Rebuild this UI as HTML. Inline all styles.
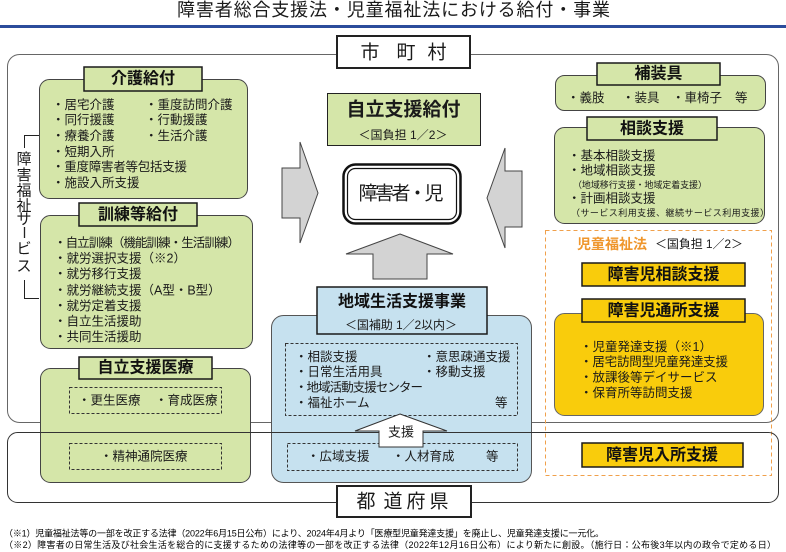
<!DOCTYPE html>
<html><head><meta charset="utf-8"><style>
html,body{margin:0;padding:0;background:#fff;}
svg{display:block;}
text{font-family:"Liberation Sans","Noto Sans CJK JP",sans-serif;fill:#1a1a1a;dominant-baseline:central;}
.h{font-weight:bold;font-size:16px;text-anchor:middle;fill:#111;}
.i{font-size:12.5px;}
.c{text-anchor:middle;}
</style></head><body>
<svg width="786" height="552" viewBox="0 0 786 552" xmlns="http://www.w3.org/2000/svg">
<rect x="0" y="0" width="786" height="552" fill="#fff"/>
<!-- title -->
<text x="177" y="10" font-size="18" textLength="433">障害者総合支援法・児童福祉法における給付・事業</text>
<rect x="0" y="25" width="786" height="3" fill="#2b4c9b"/>

<!-- municipal rect -->
<rect x="7.5" y="54.5" width="771" height="368" rx="12" fill="none" stroke="#666" stroke-width="1"/>
<rect x="337" y="36" width="133" height="32" fill="#fff" stroke="#222" stroke-width="2"/>
<text x="370" y="53" font-size="19" class="c">市</text>
<text x="406" y="53" font-size="19" class="c">町</text>
<text x="437" y="53" font-size="19" class="c">村</text>

<!-- left bracket -->
<path d="M39 135.5 H24.5 V148 M24.5 280 V298.5 H39" fill="none" stroke="#222" stroke-width="1"/>
<text x="24" y="159.5" font-size="15" class="c">障</text>
<text x="24" y="175.5" font-size="15" class="c">害</text>
<text x="24" y="191" font-size="15" class="c">福</text>
<text x="24" y="206" font-size="15" class="c">祉</text>
<text x="24" y="219.5" font-size="15" class="c">サ</text>
<line x1="24.5" y1="227" x2="24.5" y2="238" stroke="#222" stroke-width="1.3"/>
<text x="24" y="249" font-size="15" class="c">ビ</text>
<text x="24" y="266.5" font-size="15" class="c">ス</text>

<!-- 介護給付 -->
<rect x="39.5" y="79.5" width="208" height="119" rx="10" fill="#d5e6a9" stroke="#444"/>
<rect x="84" y="67" width="118" height="24" fill="#d5e6a9" stroke="#1a1a1a" stroke-width="1.5"/>
<text x="143" y="79" class="h">介護給付</text>
<text x="52" y="105" class="i">・居宅介護</text>
<text x="52" y="120" class="i">・同行援護</text>
<text x="52" y="136" class="i">・療養介護</text>
<text x="52" y="152" class="i">・短期入所</text>
<text x="52" y="167" class="i" textLength="135">・重度障害者等包括支援</text>
<text x="52" y="183" class="i">・施設入所支援</text>
<text x="145" y="105" class="i">・重度訪問介護</text>
<text x="145" y="120" class="i">・行動援護</text>
<text x="145" y="136" class="i">・生活介護</text>

<!-- 訓練等給付 -->
<rect x="40.5" y="215.5" width="212" height="133" rx="10" fill="#d5e6a9" stroke="#444"/>
<rect x="79" y="203" width="118" height="23" fill="#d5e6a9" stroke="#1a1a1a" stroke-width="1.5"/>
<text x="138" y="215" class="h">訓練等給付</text>
<text x="54" y="243" class="i" textLength="186">・自立訓練（機能訓練・生活訓練）</text>
<text x="54" y="258.5" class="i">・就労選択支援（※2）</text>
<text x="54" y="274" class="i">・就労移行支援</text>
<text x="54" y="290.5" class="i">・就労継続支援（A型・B型）</text>
<text x="54" y="306" class="i">・就労定着支援</text>
<text x="54" y="321.5" class="i">・自立生活援助</text>
<text x="54" y="337" class="i">・共同生活援助</text>

<!-- center -->
<rect x="327.5" y="93.5" width="153" height="52" fill="#d5e6a9" stroke="#222" stroke-width="1"/>
<text x="403.5" y="110" font-size="19" font-weight="bold" class="c">自立支援給付</text>
<text x="403" y="135" font-size="12" class="c" textLength="89">＜国負担 1／2＞</text>

<polygon points="282,168 300,168 300,142 318,193 300,243 300,218 282,218" fill="#d3d3d3" stroke="#444" stroke-width="1"/>
<polygon points="522,171 505,171 505,148 487,198 505,248 505,227 522,227" fill="#d3d3d3" stroke="#444" stroke-width="1"/>
<polygon points="400,234 453,254 427,254 427,279 373,279 373,254 346,254" fill="#d3d3d3" stroke="#444" stroke-width="1"/>

<rect x="343.5" y="164.5" width="117" height="59" rx="12" fill="#fff" stroke="#111" stroke-width="2.5"/>
<rect x="347.5" y="168.5" width="109" height="51" rx="8" fill="none" stroke="#111" stroke-width="1.2"/>
<text x="401" y="194" font-size="19" class="c" textLength="85">障害者・児</text>

<!-- 地域生活支援事業 -->
<rect x="271.5" y="315.5" width="260" height="167" rx="12" fill="#c6e1ef" stroke="#555"/>
<rect x="317" y="287" width="170" height="47" fill="#c6e1ef" stroke="#1a1a1a" stroke-width="1.5"/>
<text x="402" y="302" class="h">地域生活支援事業</text>
<text x="401" y="325" font-size="12" class="c" textLength="112">＜国補助 1／2以内＞</text>
<rect x="285.5" y="343.5" width="232" height="72" fill="none" stroke="#333" stroke-dasharray="3,2"/>
<text x="295" y="357" class="i">・相談支援</text>
<text x="295" y="372" class="i">・日常生活用具</text>
<text x="295" y="387.5" class="i" textLength="128">・地域活動支援センター</text>
<text x="295" y="403" class="i">・福祉ホーム</text>
<text x="423" y="357" class="i">・意思疎通支援</text>
<text x="423" y="372" class="i">・移動支援</text>
<text x="495" y="403" class="i">等</text>
<rect x="287.5" y="443.5" width="230" height="27" fill="none" stroke="#333" stroke-dasharray="3,2"/>
<text x="307" y="456.5" class="i">・広域支援</text>
<text x="392" y="456.5" class="i">・人材育成</text>
<text x="486" y="456.5" class="i">等</text>

<!-- 自立支援医療 -->
<rect x="40.5" y="368.5" width="210" height="114" rx="10" fill="#d5e6a9" stroke="#444"/>
<rect x="79" y="357" width="133" height="22" fill="#d5e6a9" stroke="#1a1a1a" stroke-width="1.5"/>
<text x="145.5" y="368" class="h">自立支援医療</text>
<rect x="69.5" y="387.5" width="152" height="26" fill="none" stroke="#333" stroke-dasharray="3,2"/>
<text x="78" y="400.5" class="i">・更生医療</text>
<text x="155" y="400.5" class="i">・育成医療</text>
<rect x="69.5" y="443.5" width="152" height="26" fill="none" stroke="#333" stroke-dasharray="3,2"/>
<text x="100" y="456.5" class="i">・精神通院医療</text>

<!-- right: 補装具 -->
<rect x="555.5" y="75.5" width="210" height="35" rx="9" fill="#d5e6a9" stroke="#444"/>
<rect x="597" y="63" width="123" height="22" fill="#d5e6a9" stroke="#1a1a1a" stroke-width="1.5"/>
<text x="658.5" y="74" class="h">補装具</text>
<text x="567" y="98" class="i">・義肢</text>
<text x="622" y="98" class="i">・装具</text>
<text x="672" y="98" class="i">・車椅子</text>
<text x="735" y="98" class="i">等</text>

<!-- 相談支援 -->
<rect x="554.5" y="127.5" width="210" height="96" rx="10" fill="#d5e6a9" stroke="#444"/>
<rect x="587" y="117" width="130" height="23" fill="#d5e6a9" stroke="#1a1a1a" stroke-width="1.5"/>
<text x="652" y="129" class="h">相談支援</text>
<text x="568" y="156" class="i">・基本相談支援</text>
<text x="568" y="170.5" class="i">・地域相談支援</text>
<text x="573" y="185" font-size="9" textLength="134">（地域移行支援・地域定着支援）</text>
<text x="568" y="198.5" class="i">・計画相談支援</text>
<text x="571" y="213" font-size="9" textLength="198">（サービス利用支援、継続サービス利用支援）</text>

<!-- 児童福祉法 -->
<rect x="545.5" y="230.5" width="226" height="245" fill="none" stroke="#f0a04b" stroke-width="1" stroke-dasharray="4,3"/>
<text x="577" y="244" font-size="14" font-weight="bold" textLength="70" style="fill:#ef962c">児童福祉法</text>
<text x="655" y="244" font-size="12" textLength="88">＜国負担 1／2＞</text>
<rect x="582" y="263" width="163" height="23" fill="#f9cc0c" stroke="#1a1a1a" stroke-width="1.5"/>
<text x="663.5" y="275" class="h">障害児相談支援</text>
<rect x="554.5" y="313.5" width="209" height="102" rx="10" fill="#f9cc0c" stroke="#666"/>
<rect x="582" y="299" width="163" height="23" fill="#f9cc0c" stroke="#1a1a1a" stroke-width="1.5"/>
<text x="663.5" y="311" class="h">障害児通所支援</text>
<text x="580" y="347" class="i">・児童発達支援（※1）</text>
<text x="580" y="362" class="i" textLength="148">・居宅訪問型児童発達支援</text>
<text x="580" y="377.5" class="i">・放課後等デイサービス</text>
<text x="580" y="393" class="i">・保育所等訪問支援</text>

<!-- prefecture -->
<rect x="7.5" y="432.5" width="771" height="70" rx="10" fill="none" stroke="#333" stroke-width="1"/>
<polygon points="400,414 447,431 423,431 423,447 379,447 379,431 355,431" fill="#fff" stroke="#333" stroke-width="1"/>
<text x="401" y="432" font-size="13" class="c">支援</text>
<rect x="582" y="443" width="161" height="24" fill="#f9cc0c" stroke="#1a1a1a" stroke-width="1.5"/>
<text x="662" y="455.5" class="h">障害児入所支援</text>
<rect x="337" y="486" width="134" height="31" fill="#fff" stroke="#222" stroke-width="2"/>
<text x="366" y="502" font-size="19" class="c">都</text>
<text x="393" y="502" font-size="19" class="c">道</text>
<text x="416" y="502" font-size="19" class="c">府</text>
<text x="439" y="502" font-size="19" class="c">県</text>

<!-- footnotes -->
<text x="4" y="533.5" font-size="9" textLength="600" style="fill:#000">（※1）児童福祉法等の一部を改正する法律（2022年6月15日公布）により、2024年4月より「医療型児童発達支援」を廃止し、児童発達支援に一元化。</text>
<text x="4" y="545" font-size="9" textLength="772" style="fill:#000">（※2）障害者の日常生活及び社会生活を総合的に支援するための法律等の一部を改正する法律（2022年12月16日公布）により新たに創設。（施行日：公布後3年以内の政令で定める日）</text>
</svg>
</body></html>
